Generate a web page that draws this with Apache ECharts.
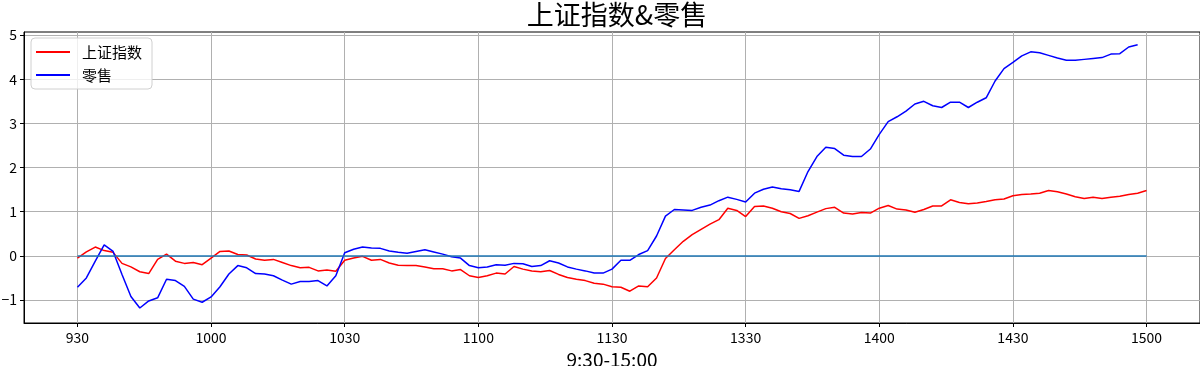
<!DOCTYPE html>
<html>
<head>
<meta charset="utf-8">
<script src="https://cdn.jsdelivr.net/npm/echarts@6/dist/echarts.min.js"></script>
<style>
html,body{margin:0;padding:0;background:#fff;}
#chart{width:1200px;height:366px;}
</style>
</head>
<body>
<div id="chart"></div>
<script>
// minutes since 9:30 (trading minutes, lunch break removed), sampled every 2 minutes
const minuteIdx = Array.from({length: 121}, (_, k) => 2 * k);

const tickMinutes = [0, 30, 60, 90, 120, 150, 180, 210, 240];
const tickLabels = ['930', '1000', '1030', '1100', '1130', '1330', '1400', '1430', '1500'];
const yTicks = [-1, 0, 1, 2, 3, 4, 5];

const shIndex = [
  -0.05, 0.09, 0.20, 0.12, 0.08, -0.17, -0.25, -0.36, -0.40, -0.08,
  0.04, -0.12, -0.17, -0.15, -0.20, -0.05, 0.10, 0.11, 0.03, 0.02,
  -0.07, -0.10, -0.08, -0.15, -0.22, -0.27, -0.26, -0.34, -0.32, -0.35,
  -0.10, -0.05, -0.01, -0.10, -0.08, -0.16, -0.21, -0.22, -0.22, -0.25,
  -0.29, -0.29, -0.34, -0.31, -0.45, -0.49, -0.45, -0.39, -0.41, -0.24,
  -0.30, -0.34, -0.36, -0.33, -0.42, -0.49, -0.53, -0.56, -0.62, -0.64,
  -0.70, -0.71, -0.80, -0.68, -0.70, -0.50, -0.06, 0.14, 0.33, 0.48,
  0.60, 0.72, 0.82, 1.08, 1.03, 0.89, 1.12, 1.13, 1.08, 1.00,
  0.96, 0.85, 0.91, 0.99, 1.07, 1.10, 0.97, 0.95, 0.98, 0.97,
  1.08, 1.14, 1.06, 1.04, 0.99, 1.05, 1.13, 1.13, 1.27, 1.21,
  1.18, 1.20, 1.23, 1.27, 1.29, 1.36, 1.39, 1.40, 1.42, 1.48,
  1.45, 1.40, 1.34, 1.30, 1.33, 1.30, 1.33, 1.35, 1.39, 1.42,
  1.48
];

const retail = [
  -0.71, -0.50, -0.12, 0.25, 0.10, -0.42, -0.92, -1.18, -1.02, -0.95,
  -0.53, -0.56, -0.69, -0.98, -1.05, -0.93, -0.70, -0.41, -0.22, -0.27,
  -0.40, -0.41, -0.45, -0.55, -0.64, -0.58, -0.58, -0.56, -0.68, -0.45,
  0.07, 0.15, 0.20, 0.18, 0.17, 0.11, 0.08, 0.06, 0.10, 0.14,
  0.09, 0.04, -0.02, -0.05, -0.22, -0.27, -0.25, -0.20, -0.21, -0.17,
  -0.18, -0.24, -0.22, -0.11, -0.16, -0.25, -0.30, -0.34, -0.39, -0.39,
  -0.30, -0.10, -0.10, 0.03, 0.12, 0.45, 0.90, 1.05, 1.04, 1.03,
  1.10, 1.15, 1.25, 1.33, 1.28, 1.22, 1.42, 1.51, 1.56, 1.52,
  1.50, 1.46, 1.91, 2.25, 2.46, 2.43, 2.28, 2.25, 2.25, 2.42,
  2.75, 3.04, 3.15, 3.28, 3.44, 3.50, 3.40, 3.36, 3.48, 3.48,
  3.36, 3.48, 3.58, 3.96, 4.24, 4.38, 4.53, 4.62, 4.60, 4.54,
  4.48, 4.43, 4.43, 4.45, 4.47, 4.49, 4.57, 4.58, 4.73, 4.78,
  null
];

const baseMinutes = [0, 240];
const baseValues = [0, 0];

const FONT = '"Noto Sans CJK SC", "DejaVu Sans", sans-serif';

const chart = echarts.init(document.getElementById('chart'), null, {renderer: 'canvas'});
chart.setOption({
  animation: false,
  backgroundColor: '#ffffff',
  title: {
    text: '上证指数&零售',
    left: 612,
    textAlign: 'center',
    top: -4,
    textStyle: {fontFamily: FONT, fontSize: 27, fontWeight: 'normal', color: '#000'}
  },
  legend: {
    data: ['上证指数', '零售'],
    orient: 'vertical',
    left: 31,
    top: 38,
    padding: [4, 10, 4, 5],
    itemGap: 3,
    itemWidth: 34,
    itemHeight: 2,
    icon: 'rect',
    backgroundColor: 'rgba(255,255,255,0.8)',
    borderColor: '#d0d0d0',
    borderWidth: 1,
    borderRadius: 4,
    textStyle: {fontFamily: FONT, fontSize: 15, color: '#000', padding: [0, 0, 0, 7], lineHeight: 20}
  },
  grid: {
    left: 24, right: 0, top: 32, bottom: 43,
    outerBoundsMode: 'none',
    show: true, borderColor: '#000', borderWidth: 1, containLabel: false
  },
  xAxis: {
    type: 'value',
    min: -12,
    max: 252,
    name: '9:30-15:00',
    nameLocation: 'middle',
    nameGap: 21,
    nameTextStyle: {fontFamily: FONT, fontSize: 19, color: '#000'},
    axisLine: {show: true, onZero: false, lineStyle: {color: '#000', width: 1}},
    axisTick: {show: true, inside: false, length: 4, lineStyle: {color: '#000'}, customValues: tickMinutes},
    axisLabel: {
      show: true, margin: 8, color: '#000', fontFamily: FONT, fontSize: 14,
      customValues: tickMinutes,
      formatter: v => {
        const i = tickMinutes.indexOf(Math.round(v));
        return i >= 0 ? tickLabels[i] : '';
      }
    },
    splitLine: {show: true, lineStyle: {color: '#b0b0b0', width: 1}}
  },
  yAxis: {
    type: 'value',
    min: -1.52,
    max: 5.07,
    axisLine: {show: true, onZero: false, lineStyle: {color: '#000', width: 1}},
    axisTick: {show: true, inside: false, length: 4, lineStyle: {color: '#000'}, customValues: yTicks},
    axisLabel: {
      show: true, margin: 7, color: '#000', fontFamily: FONT, fontSize: 14,
      customValues: yTicks,
      formatter: v => (v < 0 ? '\u2212' + Math.abs(v) : String(v))
    },
    splitLine: {show: true, lineStyle: {color: '#b0b0b0', width: 1}}
  },
  series: [
    {
      name: '上证指数',
      type: 'line',
      data: shIndex.map((v, k) => [minuteIdx[k], v]),
      showSymbol: false,
      symbol: 'none',
      lineStyle: {color: '#ff0000', width: 1.5},
      itemStyle: {color: '#ff0000'}
    },
    {
      name: '零售',
      type: 'line',
      data: retail.map((v, k) => [minuteIdx[k], v]),
      showSymbol: false,
      symbol: 'none',
      lineStyle: {color: '#0000ff', width: 1.5},
      itemStyle: {color: '#0000ff'}
    },
    {
      name: 'zero',
      type: 'line',
      data: baseValues.map((v, k) => [baseMinutes[k], v]),
      showSymbol: false,
      symbol: 'none',
      lineStyle: {color: '#1f77b4', width: 1.5},
      itemStyle: {color: '#1f77b4'}
    }
  ]
});
</script>
</body>
</html>
